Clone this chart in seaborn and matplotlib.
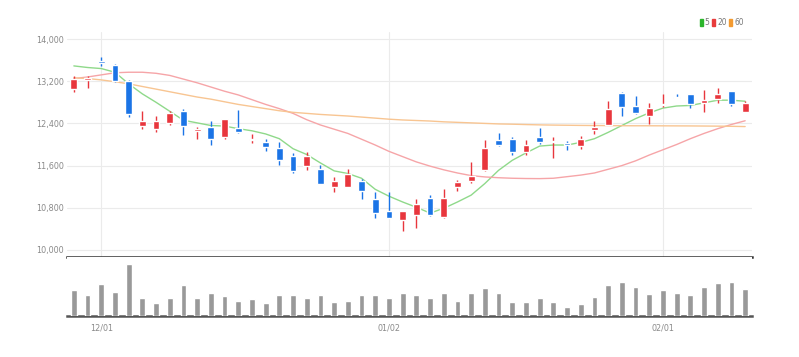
import pandas as pd
import numpy as np
import matplotlib
matplotlib.use('Agg')
import matplotlib.pyplot as plt
import seaborn as sns
from matplotlib.patches import Patch

# daily candles (KRW)
opens = [13050, 13220, 13580, 13510, 13200, 12350, 12300, 12400, 12640, 12260,
         12340, 12140, 12320, 12080, 12050, 11940, 11790, 11600, 11540, 11200,
         11200, 11310, 10960, 10740, 10570, 10660, 10990, 10630, 11200, 11300,
         11510, 12090, 12100, 11850, 12140, 12040, 12020, 11980, 12280, 12370,
         12980, 12730, 12540, 12740, 12910, 12960, 12780, 12860, 13020, 12620]
highs = [13300, 13300, 13660, 13530, 13230, 12640, 12540, 12630, 12680, 12330,
         12440, 12490, 12660, 12190, 12100, 12050, 11840, 11850, 11610, 11380,
         11530, 11340, 11100, 11090, 10740, 10960, 11050, 11150, 11330, 11660,
         12090, 12210, 12140, 12090, 12310, 12140, 12060, 12160, 12440, 12820,
         13000, 12920, 12790, 12960, 12960, 12960, 13030, 13070, 13020, 12820]
lows = [13000, 13070, 13490, 13180, 12520, 12290, 12240, 12370, 12180, 12100,
        12000, 12100, 12220, 12020, 11870, 11620, 11460, 11510, 11250, 11100,
        11190, 10960, 10610, 10600, 10360, 10410, 10640, 10610, 11120, 11270,
        11500, 11970, 11800, 11800, 12010, 11740, 11900, 11920, 12200, 12370,
        12540, 12580, 12380, 12710, 12880, 12690, 12620, 12780, 12730, 12610]
closes = [13250, 13260, 13540, 13200, 12580, 12450, 12450, 12600, 12350, 12290,
          12100, 12490, 12230, 12110, 11950, 11710, 11490, 11790, 11260, 11310,
          11440, 11120, 10710, 10610, 10740, 10880, 10660, 10990, 11280, 11400,
          11940, 11990, 11850, 11990, 12040, 12060, 11990, 12110, 12330, 12680,
          12710, 12600, 12700, 12770, 12880, 12760, 12840, 12960, 12760, 12790]
volumes = [80, 65, 99, 74, 159, 57, 40, 57, 96, 55,
           70, 61, 47, 51, 40, 65, 65, 57, 65, 42,
           45, 66, 66, 57, 71, 65, 57, 71, 47, 70,
           85, 70, 44, 42, 57, 42, 27, 37, 59, 96,
           105, 90, 69, 80, 70, 65, 90, 102, 105, 82]

# moving averages as drawn
ma5 = [13490, 13460, 13440, 13370, 13150, 12960, 12800, 12630, 12460, 12410,
       12360, 12350, 12300, 12260, 12200, 12110, 11920, 11810, 11650, 11500,
       11450, 11360, 11150, 11020, 10910, 10810, 10700, 10790, 10910, 11040,
       11260, 11510, 11700, 11840, 11970, 11990, 11990, 12040, 12110, 12230,
       12360, 12490, 12600, 12690, 12730, 12740, 12790, 12840, 12840, 12820]
ma20 = [13250, 13280, 13320, 13360, 13370, 13370, 13350, 13310, 13240, 13170,
        13090, 13010, 12940, 12850, 12760, 12680, 12590, 12470, 12370, 12290,
        12210, 12100, 11990, 11870, 11770, 11670, 11590, 11520, 11460, 11410,
        11385, 11370, 11360, 11355, 11353, 11360, 11390, 11420, 11460, 11530,
        11600, 11690, 11800, 11900, 12000, 12110, 12210, 12300, 12380, 12450]
ma60 = [13264, 13250, 13225, 13190, 13150, 13100, 13050, 13000, 12950, 12900,
        12860, 12810, 12760, 12720, 12680, 12640, 12610, 12590, 12570, 12555,
        12540, 12520, 12500, 12480, 12465, 12455, 12445, 12430, 12420, 12410,
        12400, 12390, 12385, 12378, 12372, 12368, 12365, 12362, 12360, 12358,
        12356, 12355, 12355, 12354, 12353, 12352, 12350, 12348, 12345, 12340]

# KRX trading days
holidays = ['2022-12-30', '2023-01-23', '2023-01-24']
tick_dates = ['2022-12-01', '2023-01-02', '2023-02-01']
price_ticks = [10000, 10800, 11600, 12400, 13200, 14000]

dates = pd.bdate_range('2022-11-29', '2023-02-09', freq='C', holidays=holidays)
df = pd.DataFrame({'date': dates, 'open': opens, 'high': highs, 'low': lows,
                   'close': closes, 'volume': volumes,
                   'ma5': ma5, 'ma20': ma20, 'ma60': ma60})
df['idx'] = np.arange(len(df))
up = df['close'] >= df['open']

sns.set_style('white')
plt.rcParams['font.family'] = ['DejaVu Sans']
plt.rcParams['font.stretch'] = 'condensed'

RED = '#e8363d'
BLUE = '#1b74e6'
GRID = '#ebebeb'
TXT = '#8a8a8a'

fig = plt.figure(figsize=(7.99, 3.57), dpi=100)
ax = fig.add_axes([67 / 799, 100 / 357, 685 / 799, 225 / 357])
axv = fig.add_axes([67 / 799, 41 / 357, 685 / 799, 59 / 357], sharex=ax)

# candles
colors = np.where(up, RED, BLUE)
ax.vlines(df['idx'], df['low'], df['high'], colors=colors, linewidth=1, zorder=3)
body_lo = np.minimum(df['open'], df['close'])
body_h = np.maximum((df['close'] - df['open']).abs(), 25)
ax.bar(df['idx'], body_h, bottom=body_lo, width=0.5, color=colors, zorder=4)

sns.lineplot(data=df, x='idx', y='ma5', color='#8fd98a', linewidth=1, ax=ax, zorder=2)
sns.lineplot(data=df, x='idx', y='ma20', color='#f6a5a8', linewidth=1, ax=ax, zorder=2)
sns.lineplot(data=df, x='idx', y='ma60', color='#f8c592', linewidth=1, ax=ax, zorder=2)

tick_pos = [df.index[df['date'] == pd.Timestamp(d)][0] for d in tick_dates]
tick_lab = [pd.Timestamp(d).strftime('%m/%d') for d in tick_dates]

ax.set_xlim(-0.5, len(df) - 0.5)
ax.set_ylim(9867, 14133)
ax.set_yticks(price_ticks)
ax.set_yticklabels([f'{v:,}' for v in price_ticks])
ax.set_xticks(tick_pos)
ax.grid(True, color=GRID, linewidth=0.8)
ax.set_axisbelow(True)
ax.tick_params(axis='y', length=0, labelsize=6.5, labelcolor=TXT, pad=2)
ax.tick_params(axis='x', length=0, labelbottom=False)
ax.set_xlabel('')
ax.set_ylabel('')
for s in ['top', 'left', 'right']:
    ax.spines[s].set_visible(False)
ax.spines['bottom'].set_color('#333333')
ax.spines['bottom'].set_linewidth(1.8)

handles = [Patch(color='#2bb52b'), Patch(color='#e83c3c'), Patch(color='#f39a30')]
leg = ax.legend(handles, ['5', '20', '60'], loc='lower right', bbox_to_anchor=(0.995, 1.0),
                ncol=3, frameon=False, fontsize=6, handlelength=0.4, handleheight=0.9,
                handletextpad=0.2, columnspacing=0.3, borderaxespad=0.2)
for t in leg.get_texts():
    t.set_color('#777777')

# volume
axv.bar(df['idx'], df['volume'], width=0.42, color='#999999', zorder=3)
axv.set_ylim(0, 182)
axv.set_yticks([])
axv.set_xticks(tick_pos)
axv.set_xticklabels(tick_lab)
axv.tick_params(axis='x', direction='inout', length=5, width=1, color='#444444',
                labelsize=6.5, labelcolor=TXT, pad=3)
for s in ['top', 'left', 'right']:
    axv.spines[s].set_visible(False)
axv.spines['bottom'].set_color('#555555')
axv.spines['bottom'].set_linewidth(1.8)
axv.set_xlabel('')
axv.set_ylabel('')

fig.savefig('out.png', dpi=100)
